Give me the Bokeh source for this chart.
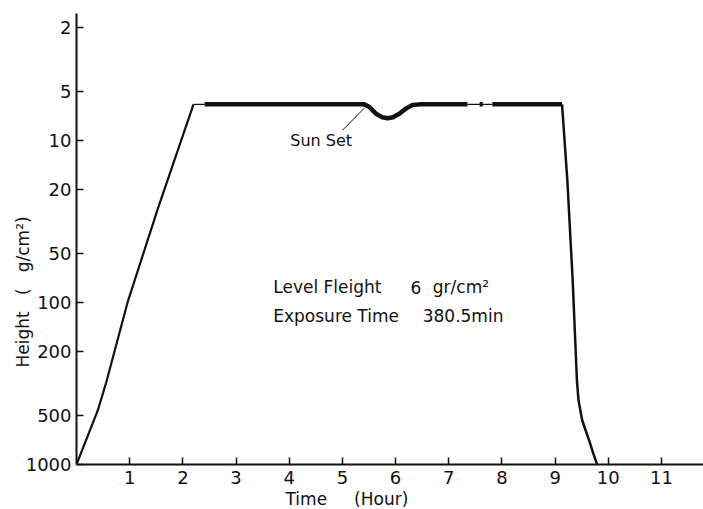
import math
from bokeh.plotting import figure
from bokeh.models import Range1d, FixedTicker, NumeralTickFormatter, Label, Title
from bokeh.embed import file_html
from bokeh.resources import INLINE

# ---- data (time in hours, height in g/cm^2) ----
ascent_t = [0.0, 0.40, 0.56, 0.96, 1.53, 2.20]
ascent_h = [1000, 464, 311, 100, 26.4, 6.0]

thin1_t = [2.20, 2.41]
thin1_h = [6.0, 6.0]

level1_t = [2.41, 5.41, 5.50, 5.63, 5.75, 5.85, 5.95, 6.07, 6.20, 6.32, 6.45, 7.35]
level1_h = [6.0, 6.0, 6.2, 6.85, 7.2, 7.3, 7.2, 6.85, 6.35, 6.05, 6.0, 6.0]

thin2_t = [7.35, 7.82]
thin2_h = [6.0, 6.0]

dot_t = [7.58, 7.64]
dot_h = [6.0, 6.0]

level2_t = [7.82, 9.13]
level2_h = [6.0, 6.0]

descent_t = [9.13, 9.23, 9.33, 9.41, 9.44, 9.51, 9.64, 9.72, 9.79]
descent_h = [6.0, 17.7, 73, 303, 403, 535, 711, 859, 1000]

sunset_t = [5.0, 5.41]
sunset_h = [8.67, 6.34]

x_ticks = [1, 2, 3, 4, 5, 6, 7, 8, 9, 10, 11]
y_ticks = [2, 5, 10, 20, 50, 100, 200, 500, 1000]

FONT = "DejaVu Sans"
col = "#111111"

p = figure(width=703, height=509, output_backend="svg", toolbar_location=None,
           y_axis_type="log",
           x_range=Range1d(0, 11.79), y_range=Range1d(1000, 1.65),
           min_border_left=76, min_border_right=0, min_border_top=13, min_border_bottom=45)
p.outline_line_color = None
p.xgrid.visible = False
p.ygrid.visible = False
p.background_fill_color = "white"
p.border_fill_color = "white"

for ax in (p.xaxis[0], p.yaxis[0]):
    ax.axis_line_width = 2
    ax.axis_line_color = col
    ax.major_tick_in = 7
    ax.major_tick_out = 0
    ax.major_tick_line_width = 1.5
    ax.major_tick_line_color = col
    ax.minor_tick_in = 0
    ax.minor_tick_out = 0
    ax.major_label_text_font = FONT
    ax.major_label_text_font_size = "18px"
    ax.major_label_text_color = col
    ax.formatter = NumeralTickFormatter(format="0")

p.xaxis[0].ticker = FixedTicker(ticks=x_ticks)
p.yaxis[0].ticker = FixedTicker(ticks=y_ticks)
p.xaxis[0].major_label_standoff = 6
p.yaxis[0].major_label_standoff = 5

p.line(ascent_t, ascent_h, line_width=2.2, line_color=col, line_join="round")
p.line(thin1_t, thin1_h, line_width=1.3, line_color=col)
p.line(level1_t, level1_h, line_width=4.5, line_color=col, line_join="round")
p.line(thin2_t, thin2_h, line_width=1.3, line_color=col)
p.line(dot_t, dot_h, line_width=4.5, line_color=col)
p.line(level2_t, level2_h, line_width=4.5, line_color=col)
p.line(descent_t, descent_h, line_width=2.5, line_color=col, line_join="round")
p.line(sunset_t, sunset_h, line_width=1, line_color=col)

def lab(x, y, text, size="16px"):
    p.add_layout(Label(x=x, y=y, text=text, text_font=FONT, text_font_size=size,
                       text_color=col, text_align="left", text_baseline="middle"))

lab(4.02, 10.0, "Sun Set")
lab(3.70, 80.7, "Level Fleight", size="17px")
lab(6.28, 80.7, "6", size="17px")
lab(6.70, 80.7, "gr/cm²", size="17px")
lab(3.70, 121.9, "Exposure Time", size="17px")
lab(6.51, 121.9, "380.5min", size="17px")

nb = "\u00a0"
xt = Title(text="Time" + nb * 5 + "(Hour)", align="left", offset=209, standoff=1,
           text_font=FONT, text_font_size="17px", text_font_style="normal", text_color=col)
p.add_layout(xt, "below")
yt = Title(text="Height" + nb * 3 + "(" + nb * 3 + "g/cm²)", align="left", offset=97, standoff=-20,
           vertical_align="bottom",
           text_font=FONT, text_font_size="17px", text_font_style="normal", text_color=col)
p.add_layout(yt, "left")

open("out.html", "w").write(file_html(p, INLINE))
